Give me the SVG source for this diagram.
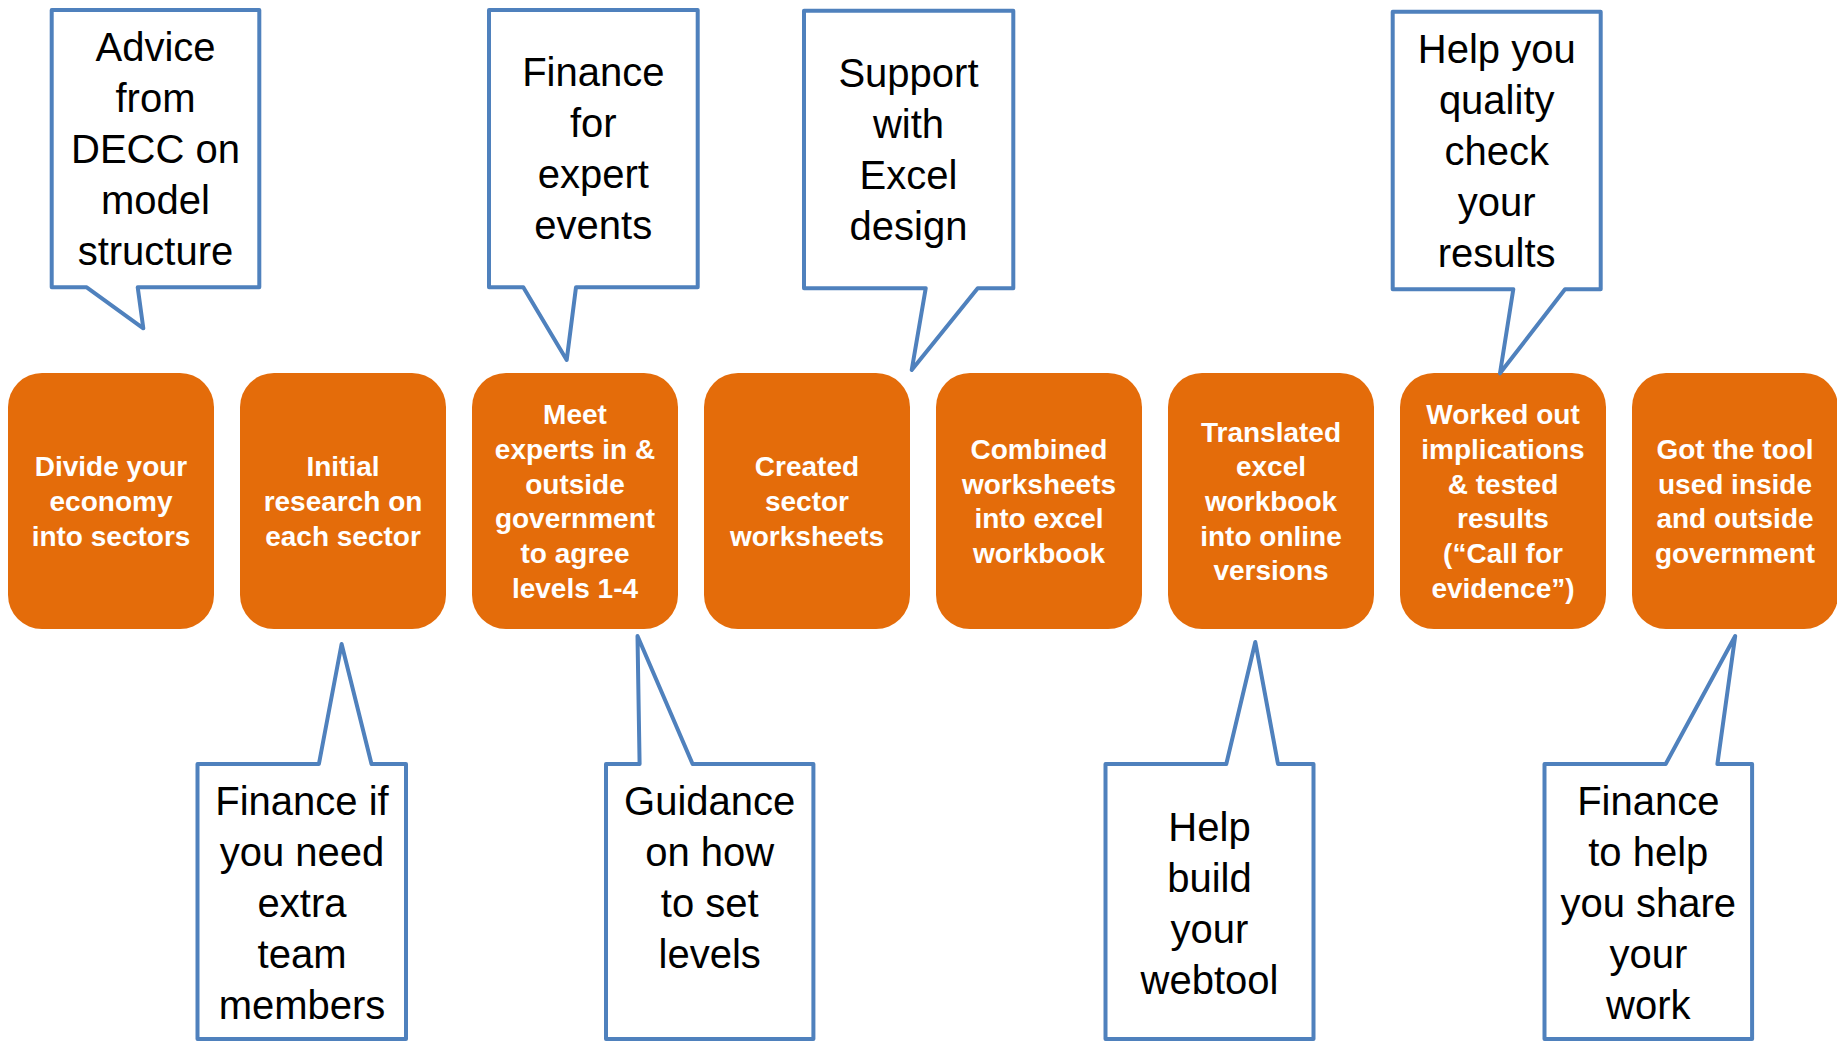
<svg xmlns="http://www.w3.org/2000/svg" width="1837" height="1042" viewBox="0 0 1837 1042">
<style>
.step rect{fill:#E46C0A;}
.step text{font-family:"Liberation Sans",Arial,sans-serif;font-weight:bold;font-size:28px;fill:#FFFFFF;text-anchor:middle;}
.callout path{fill:#FFFFFF;stroke:#4F81BD;stroke-width:4;stroke-linejoin:round;}
.callout text{font-family:"Liberation Sans",Arial,sans-serif;font-size:40px;fill:#000000;text-anchor:middle;}
</style>
<rect width="1837" height="1042" fill="#FFFFFF"/>

<g id="connectors"></g>

<g id="step1" class="step">
<rect x="8" y="373" width="206" height="256" rx="34" ry="34"/>
<text x="111" y="476">Divide your</text>
<text x="111" y="511">economy</text>
<text x="111" y="546">into sectors</text>
</g>
<g id="step2" class="step">
<rect x="240" y="373" width="206" height="256" rx="34" ry="34"/>
<text x="343" y="476">Initial</text>
<text x="343" y="511">research on</text>
<text x="343" y="546">each sector</text>
</g>
<g id="step3" class="step">
<rect x="472" y="373" width="206" height="256" rx="34" ry="34"/>
<text x="575" y="424">Meet</text>
<text x="575" y="459">experts in &amp;</text>
<text x="575" y="494">outside</text>
<text x="575" y="528">government</text>
<text x="575" y="563">to agree</text>
<text x="575" y="598">levels 1-4</text>
</g>
<g id="step4" class="step">
<rect x="704" y="373" width="206" height="256" rx="34" ry="34"/>
<text x="807" y="476">Created</text>
<text x="807" y="511">sector</text>
<text x="807" y="546">worksheets</text>
</g>
<g id="step5" class="step">
<rect x="936" y="373" width="206" height="256" rx="34" ry="34"/>
<text x="1039" y="459">Combined</text>
<text x="1039" y="494">worksheets</text>
<text x="1039" y="528">into excel</text>
<text x="1039" y="563">workbook</text>
</g>
<g id="step6" class="step">
<rect x="1168" y="373" width="206" height="256" rx="34" ry="34"/>
<text x="1271" y="442">Translated</text>
<text x="1271" y="476">excel</text>
<text x="1271" y="511">workbook</text>
<text x="1271" y="546">into online</text>
<text x="1271" y="580">versions</text>
</g>
<g id="step7" class="step">
<rect x="1400" y="373" width="206" height="256" rx="34" ry="34"/>
<text x="1503" y="424">Worked out</text>
<text x="1503" y="459">implications</text>
<text x="1503" y="494">&amp; tested</text>
<text x="1503" y="528">results</text>
<text x="1503" y="563">(“Call for</text>
<text x="1503" y="598">evidence”)</text>
</g>
<g id="step8" class="step">
<rect x="1632" y="373" width="206" height="256" rx="34" ry="34"/>
<text x="1735" y="459">Got the tool</text>
<text x="1735" y="494">used inside</text>
<text x="1735" y="528">and outside</text>
<text x="1735" y="563">government</text>
</g>

<g id="callout1" class="callout">
<path d="M51.7,10 H259.3 V287.3 H137.7 L143.3,328.3 L86.7,287.3 H51.7 Z"/>
<text x="155.5" y="61">Advice</text>
<text x="155.5" y="112">from</text>
<text x="155.5" y="163">DECC on</text>
<text x="155.5" y="214">model</text>
<text x="155.5" y="265">structure</text>
</g>
<g id="callout2" class="callout">
<path d="M489,10 H697.7 V287.3 H576 L566.7,360 L523.3,287.3 H489 Z"/>
<text x="593.3" y="86">Finance</text>
<text x="593.3" y="137">for</text>
<text x="593.3" y="188">expert</text>
<text x="593.3" y="239">events</text>
</g>
<g id="callout3" class="callout">
<path d="M804,10.7 H1013.3 V288.3 H977.7 L911.7,370 L925.7,288.3 H804 Z"/>
<text x="908.5" y="87">Support</text>
<text x="908.5" y="138">with</text>
<text x="908.5" y="189">Excel</text>
<text x="908.5" y="240">design</text>
</g>
<g id="callout4" class="callout">
<path d="M1392.7,11.7 H1600.7 V289.3 H1565 L1500,373.3 L1513.3,289.3 H1392.7 Z"/>
<text x="1496.7" y="63">Help you</text>
<text x="1496.7" y="114">quality</text>
<text x="1496.7" y="165">check</text>
<text x="1496.7" y="216">your</text>
<text x="1496.7" y="267">results</text>
</g>
<g id="callout5" class="callout">
<path d="M197.5,764 H318.9 L341.6,644 L371.5,764 H406 V1039 H197.5 Z"/>
<text x="302" y="815">Finance if</text>
<text x="302" y="866">you need</text>
<text x="302" y="917">extra</text>
<text x="302" y="968">team</text>
<text x="302" y="1019">members</text>
</g>
<g id="callout6" class="callout">
<path d="M606,764 H639.6 L637.5,636 L692.6,764 H813.4 V1039 H606 Z"/>
<text x="709.7" y="815">Guidance</text>
<text x="709.7" y="866">on how</text>
<text x="709.7" y="917">to set</text>
<text x="709.7" y="968">levels</text>
</g>
<g id="callout7" class="callout">
<path d="M1105.5,764 H1226.3 L1255.3,642 L1278,764 H1313.5 V1039 H1105.5 Z"/>
<text x="1209.5" y="841">Help</text>
<text x="1209.5" y="892">build</text>
<text x="1209.5" y="943">your</text>
<text x="1209.5" y="994">webtool</text>
</g>
<g id="callout8" class="callout">
<path d="M1544.5,764 H1665.7 L1735.2,636 L1717.4,764 H1752.1 V1039 H1544.5 Z"/>
<text x="1648.3" y="815">Finance</text>
<text x="1648.3" y="866">to help</text>
<text x="1648.3" y="917">you share</text>
<text x="1648.3" y="968">your</text>
<text x="1648.3" y="1019">work</text>
</g>
</svg>
